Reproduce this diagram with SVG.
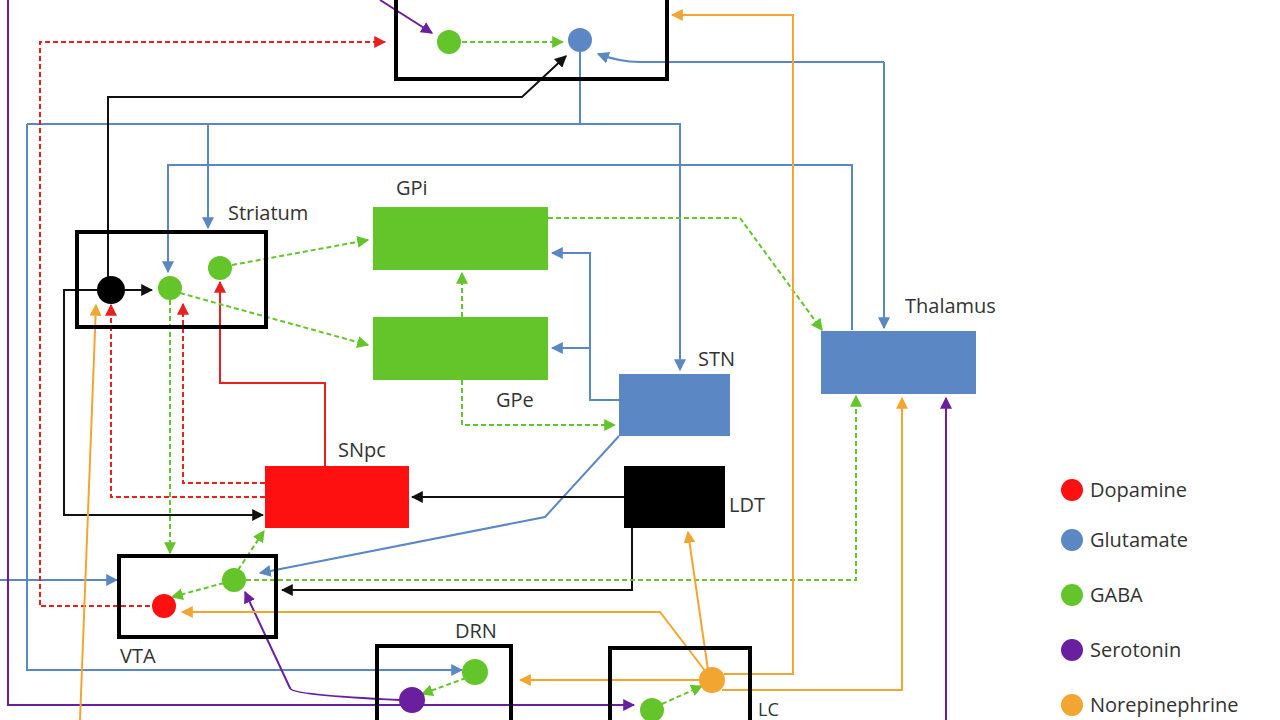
<svg xmlns="http://www.w3.org/2000/svg" width="1280" height="720" viewBox="0 0 1280 720">
<style>
text{font-family:"Open Sans","Liberation Sans",sans-serif;font-size:20px;fill:#333}
.box{fill:none;stroke:#000;stroke-width:4}
.c{fill:none;stroke-width:2}
.r{stroke:#e8201e}.b{stroke:#5b87c5}.g{stroke:#63c52a}.p{stroke:#6a1fa0}.o{stroke:#f3a531}.k{stroke:#111}
.d{stroke-dasharray:5 3}
</style>
<defs>
<marker id="mr" viewBox="0 0 10 10" refX="9" refY="5" markerWidth="6" markerHeight="6" orient="auto"><path d="M0,0L10,5L0,10z" fill="#e8201e"/></marker>
<marker id="mb" viewBox="0 0 10 10" refX="9" refY="5" markerWidth="6" markerHeight="6" orient="auto"><path d="M0,0L10,5L0,10z" fill="#5b87c5"/></marker>
<marker id="mg" viewBox="0 0 10 10" refX="9" refY="5" markerWidth="6" markerHeight="6" orient="auto"><path d="M0,0L10,5L0,10z" fill="#63c52a"/></marker>
<marker id="mp" viewBox="0 0 10 10" refX="9" refY="5" markerWidth="6" markerHeight="6" orient="auto"><path d="M0,0L10,5L0,10z" fill="#6a1fa0"/></marker>
<marker id="mo" viewBox="0 0 10 10" refX="9" refY="5" markerWidth="6" markerHeight="6" orient="auto"><path d="M0,0L10,5L0,10z" fill="#f3a531"/></marker>
<marker id="mk" viewBox="0 0 10 10" refX="9" refY="5" markerWidth="6" markerHeight="6" orient="auto"><path d="M0,0L10,5L0,10z" fill="#111"/></marker>
</defs>
<rect width="1280" height="720" fill="#fff"/>
<g id="connectors">
<path class="c b" d="M27,124H680V370" marker-end="url(#mb)"/>
<path class="c b" d="M580,52V124"/>
<path class="c b" d="M208,124V228" marker-end="url(#mb)"/>
<path class="c b" d="M27,124V670H462" marker-end="url(#mb)"/>
<path class="c b" d="M0,580H117" marker-end="url(#mb)"/>
<path class="c b" d="M852,330V165H168V272" marker-end="url(#mb)"/>
<path class="c b" d="M884,62V328" marker-end="url(#mb)"/>
<path class="c b" d="M884,62H640Q620,62 598,54" marker-end="url(#mb)"/>
<path class="c b" d="M619,400H590V253H552" marker-end="url(#mb)"/>
<path class="c b" d="M590,348H552" marker-end="url(#mb)"/>
<path class="c b" d="M619,436L545,517L260,573" marker-end="url(#mb)"/>
<path class="c r d" d="M40,605V42H385" marker-end="url(#mr)"/>
<path class="c r d" d="M150,606H40"/>
<path class="c r d" d="M265,483H183V304" marker-end="url(#mr)"/>
<path class="c r d" d="M265,497H111V305" marker-end="url(#mr)"/>
<path class="c r" d="M325,466V383H220V282" marker-end="url(#mr)"/>
<path class="c k" stroke-width="2.5" d="M624,497H412" marker-end="url(#mk)"/>
<path class="c k" stroke-width="2.5" d="M632,528V590H282" marker-end="url(#mk)"/>
<path class="c k" stroke-width="2.5" d="M98,290H64V515H263" marker-end="url(#mk)"/>
<path class="c k" stroke-width="2.5" d="M108,290V97H522L566,56" marker-end="url(#mk)"/>
<path class="c k" stroke-width="2.5" d="M122,290H152" marker-end="url(#mk)"/>
<path class="c p" d="M380,0L432,33" marker-end="url(#mp)"/>
<path class="c p" d="M8,0V705H634" marker-end="url(#mp)"/>
<path class="c p" d="M400,700Q290,695 290,688L245,592" marker-end="url(#mp)"/>
<path class="c p" d="M946,720V398" marker-end="url(#mp)"/>
<path class="c g d" d="M462,42H563" marker-end="url(#mg)"/>
<path class="c g d" d="M232,265L368,240" marker-end="url(#mg)"/>
<path class="c g d" d="M180,293L368,345" marker-end="url(#mg)"/>
<path class="c g d" d="M462,317V273" marker-end="url(#mg)"/>
<path class="c g d" d="M462,380V425H615" marker-end="url(#mg)"/>
<path class="c g d" d="M548,218H740L822,330" marker-end="url(#mg)"/>
<path class="c g d" d="M170,300V553" marker-end="url(#mg)"/>
<path class="c g d" d="M238,570L264,531" marker-end="url(#mg)"/>
<path class="c g d" d="M224,583L172,597" marker-end="url(#mg)"/>
<path class="c g d" d="M246,580H856V396" marker-end="url(#mg)"/>
<path class="c g d" d="M662,704L702,686" marker-end="url(#mg)"/>
<path class="c g d" d="M466,678L422,694" marker-end="url(#mg)"/>
<path class="c o" d="M708,670L688,532" marker-end="url(#mo)"/>
<path class="c o" d="M700,680H520" marker-end="url(#mo)"/>
<path class="c o" d="M706,672L660,612H182" marker-end="url(#mo)"/>
<path class="c o" d="M722,690H902V398" marker-end="url(#mo)"/>
<path class="c o" d="M724,674H793V15H672" marker-end="url(#mo)"/>
<path class="c o" d="M80,720L96,305" marker-end="url(#mo)"/>
</g>
<g id="top"><rect class="box" x="396" y="-5" width="271" height="84"/><circle cx="449" cy="42" r="12" fill="#63c52a"/><circle cx="580" cy="40" r="12" fill="#5b87c5"/></g>
<g id="striatum"><rect class="box" x="77" y="232" width="189" height="95"/><circle cx="111" cy="290" r="14" fill="#000"/><circle cx="170" cy="288" r="12" fill="#63c52a"/><circle cx="220" cy="268" r="12" fill="#63c52a"/><text x="228" y="220">Striatum</text></g>
<g id="gpi"><rect x="373" y="207" width="175" height="63" fill="#63c52a"/><text x="396" y="195">GPi</text></g>
<g id="gpe"><rect x="373" y="317" width="175" height="63" fill="#63c52a"/><text x="496" y="407">GPe</text></g>
<g id="stn"><rect x="619" y="374" width="111" height="62" fill="#5b87c5"/><text x="698" y="366">STN</text></g>
<g id="thalamus"><rect x="821" y="331" width="155" height="63" fill="#5b87c5"/><text x="905" y="313">Thalamus</text></g>
<g id="snpc"><rect x="265" y="466" width="144" height="62" fill="#ff1010"/><text x="338" y="457">SNpc</text></g>
<g id="ldt"><rect x="624" y="466" width="101" height="62" fill="#000"/><text x="729" y="512">LDT</text></g>
<g id="vta"><rect class="box" x="119" y="556" width="157" height="81"/><circle cx="164" cy="606" r="12" fill="#ff1010"/><circle cx="234" cy="580" r="12" fill="#63c52a"/><text x="120" y="663">VTA</text></g>
<g id="drn"><rect class="box" x="377" y="646" width="134" height="84"/><circle cx="475" cy="672" r="13" fill="#63c52a"/><circle cx="412" cy="700" r="13" fill="#6a1fa0"/><text x="455" y="638">DRN</text></g>
<g id="lc"><rect class="box" x="610" y="648" width="140" height="84"/><circle cx="712" cy="680" r="13" fill="#f3a531"/><circle cx="652" cy="710" r="12" fill="#63c52a"/><text x="758" y="716" style="font-size:18px">LC</text></g>
<g id="legend">
<circle cx="1072" cy="490" r="11" fill="#ff1010"/><text x="1090" y="497">Dopamine</text>
<circle cx="1072" cy="540" r="11" fill="#5b87c5"/><text x="1090" y="547">Glutamate</text>
<circle cx="1072" cy="595" r="11" fill="#63c52a"/><text x="1090" y="602">GABA</text>
<circle cx="1072" cy="650" r="11" fill="#6a1fa0"/><text x="1090" y="657">Serotonin</text>
<circle cx="1072" cy="705" r="11" fill="#f3a531"/><text x="1090" y="712">Norepinephrine</text>
</g>
</svg>
